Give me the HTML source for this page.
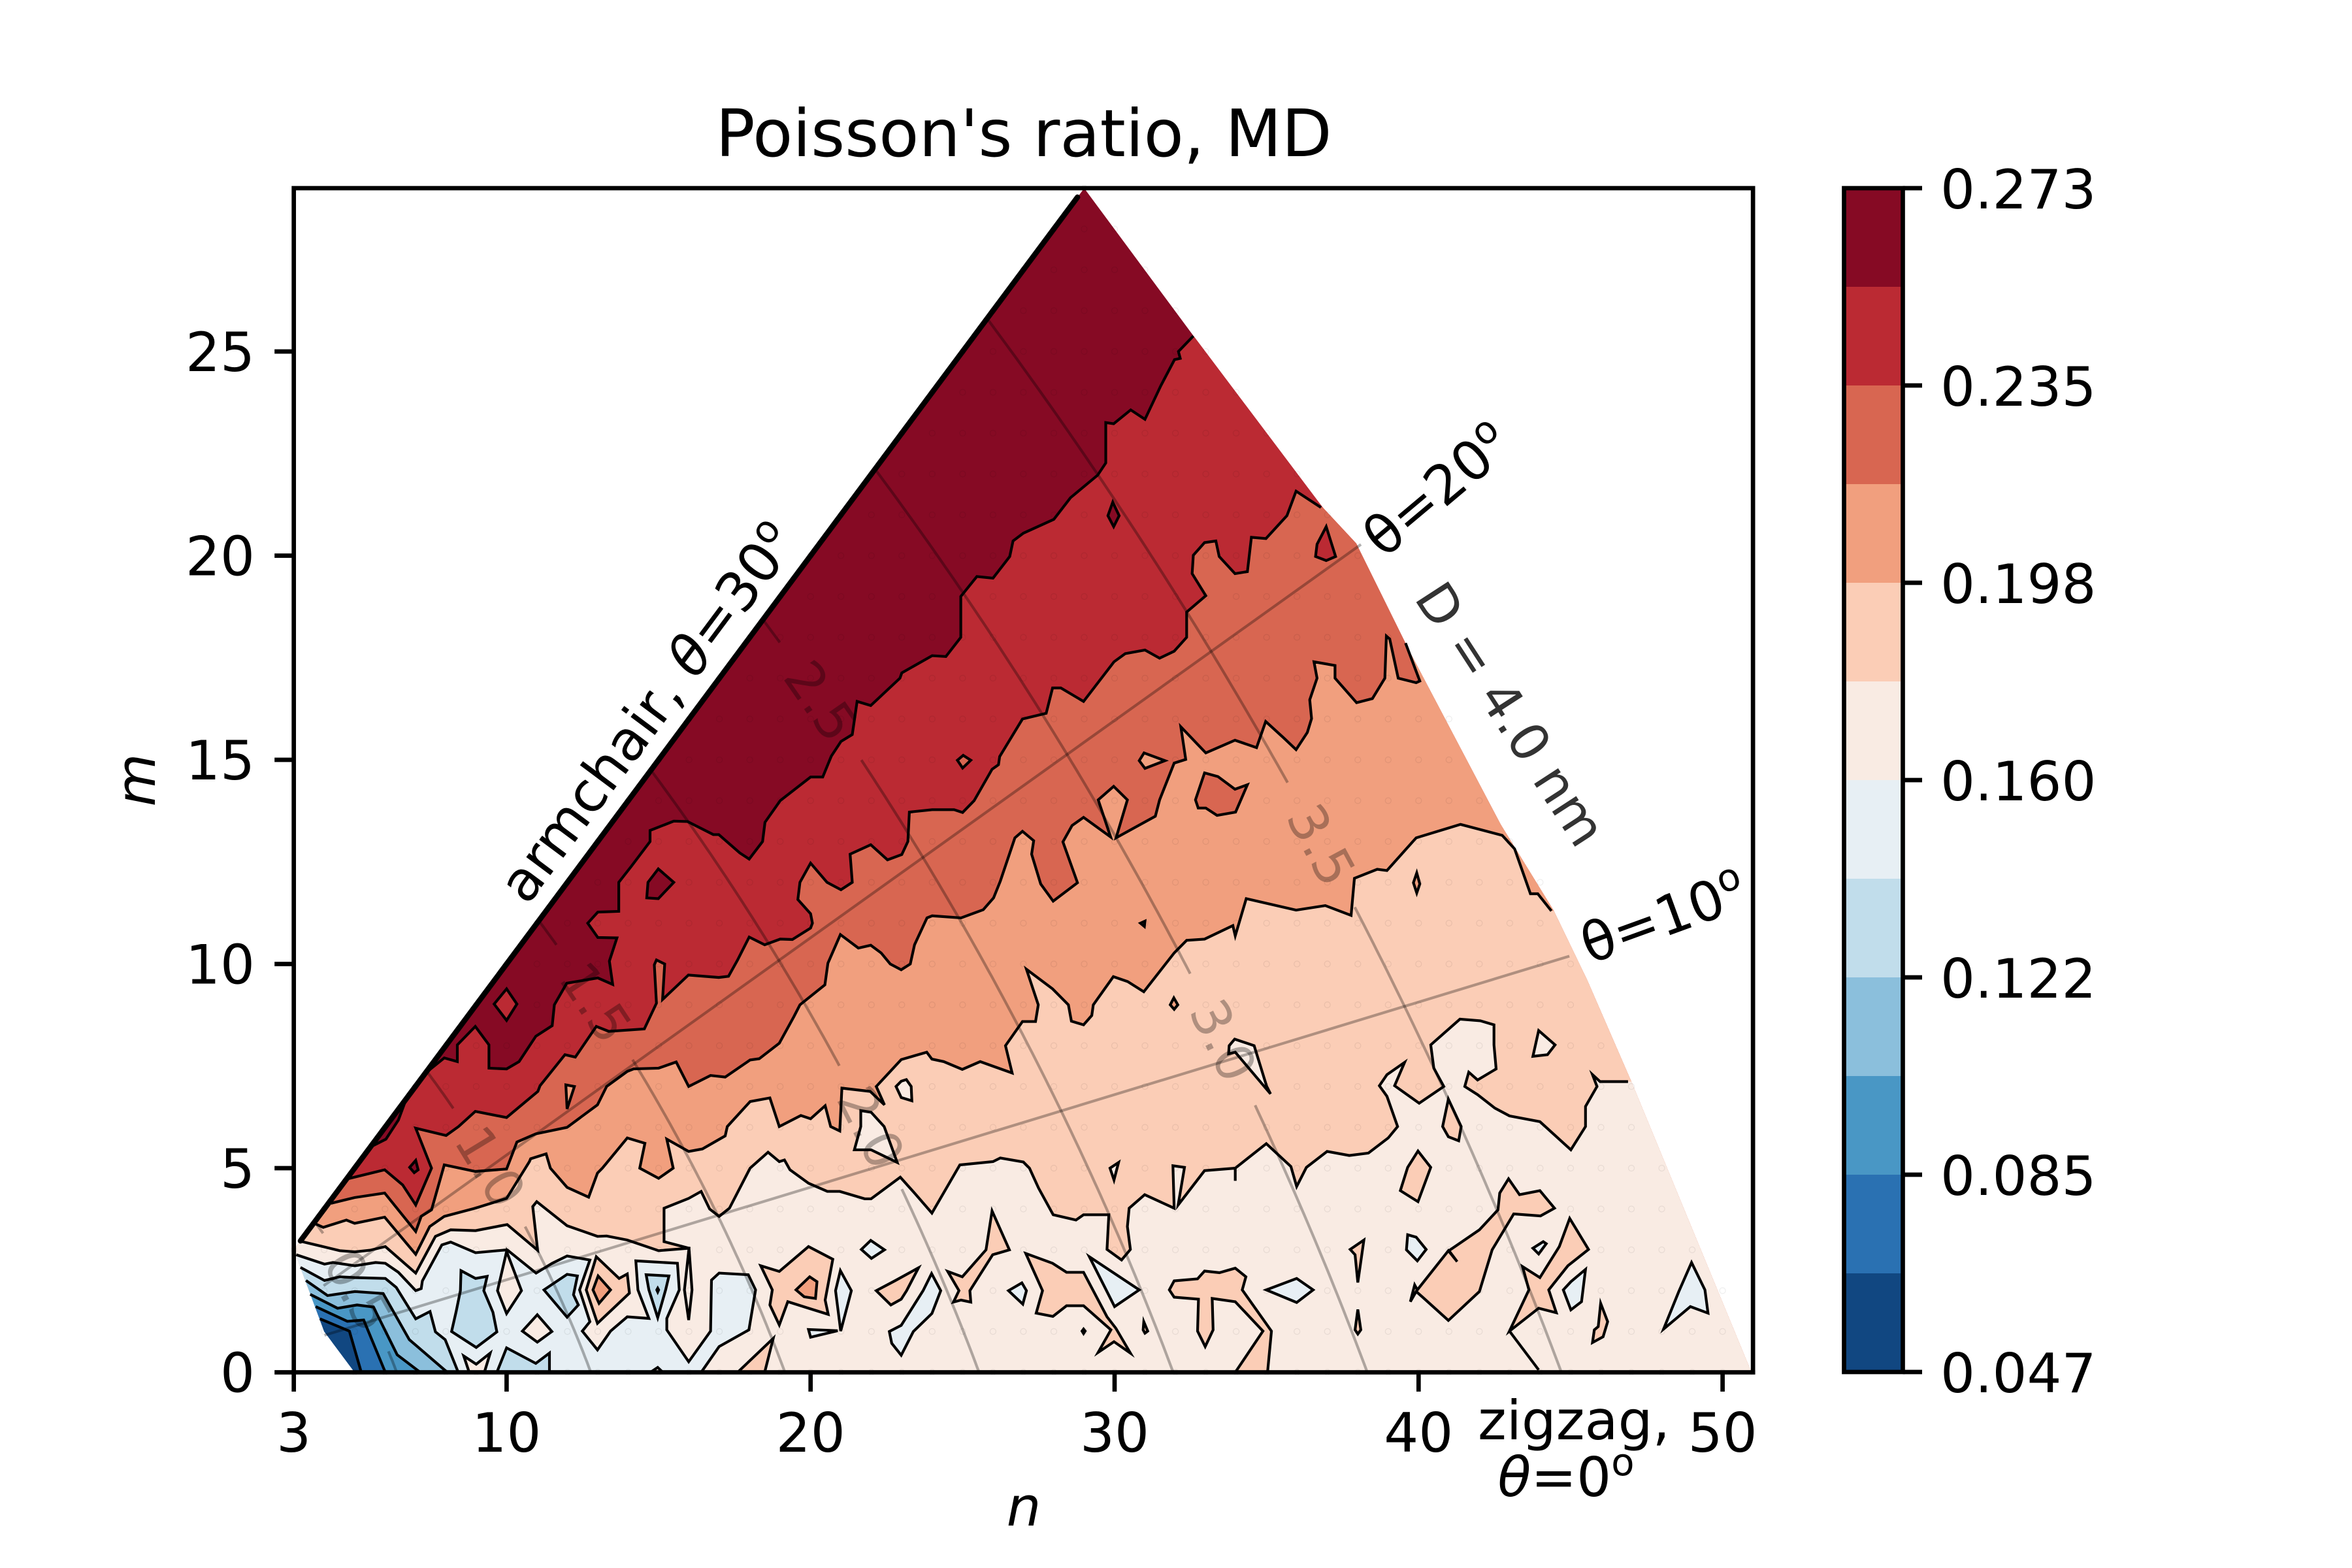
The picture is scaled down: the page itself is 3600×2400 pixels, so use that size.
<!DOCTYPE html>
<html lang="en">
<head>
<meta charset="utf-8">
<title>Poisson's ratio, MD</title>
<style>
html,body{margin:0;padding:0;background:#fff}
svg{display:block}
text{font-family:"DejaVu Sans","Liberation Sans",sans-serif;fill:#000}
</style>
</head>
<body>
<svg id="chart" xmlns="http://www.w3.org/2000/svg" width="3600" height="2400" viewBox="0 0 3600 2400">
  <rect x="0" y="0" width="3600" height="2400" fill="#fff"/>
  <g id="plot"></g>
  <g id="guides"></g>
  <g id="axes"></g>
  <g id="colorbar"></g>
  <text x="1567" y="239" font-size="100" text-anchor="middle">Poisson's ratio, MD</text>
  <text x="1567" y="2335" font-size="83.33" font-style="italic" text-anchor="middle">n</text>
  <text transform="translate(237,1194) rotate(-90)" font-size="83.33" font-style="italic" text-anchor="middle">m</text>
  <text transform="translate(991,1090) rotate(-53.3)" dy="30" font-size="84.5" text-anchor="middle">armchair, <tspan font-style="italic">θ</tspan>=30<tspan font-size="58" dy="-32">o</tspan></text>
  <text transform="translate(2199,749) rotate(-40)" dy="30" font-size="83.33" text-anchor="middle">θ=20<tspan font-size="58" dy="-32">o</tspan></text>
  <text transform="translate(2546,1403) rotate(-20)" dy="30" font-size="83.33" text-anchor="middle">θ=10<tspan font-size="58" dy="-32">o</tspan></text>
  <text transform="translate(2314,1092) rotate(57)" dy="30" font-size="80" text-anchor="middle" style="fill:#333">D = 4.0 nm</text>
  <text x="2409" y="2203" font-size="83.33" text-anchor="middle">zigzag,</text>
  <text x="2397" y="2290" font-size="83.33" text-anchor="middle"><tspan font-style="italic">θ</tspan>=0<tspan font-size="58" dy="-32">o</tspan></text>
</svg>
<script>
// Axis ticks
const xTicks = [3, 10, 20, 30, 40, 50];
const yTicks = [0, 5, 10, 15, 20, 25];
const colorbarLabels = ['0.273', '0.235', '0.198', '0.160', '0.122', '0.085', '0.047'];
// Contour band colours, highest band first
const bandColors = ['#860a24', '#bb2a33', '#d86651', '#f19f7e', '#fbcdb6', '#f9ebe3', '#e7eff4', '#c1ddeb', '#8bbfdc', '#4997c5', '#2a71b2', '#114781'];
// Sampled domain outline, in (n, m)
const domainVertices = [[3,3],[29,29],[32.6,25.38],[36.85,21.18],[37.95,20.3],[39.7,17.66],[42.7,13.42],[44.45,11.3],[45.55,9.6],[47,7.12],[50.95,0],[5,0],[4,1]];
// Main contour lines in (n, m), read left to right; each separates band i from band i+1
const contour0 = [[7.4,7.37],[7.95,7.7],[8.38,7.61],[8.38,8.02],[8.97,8.47],[9.42,8.02],[9.42,7.45],[10,7.43],[10.41,7.61],[10.96,8.23],[11.5,8.49],[11.57,9],[11.98,9.53],[13,9.66],[13.49,9.5],[13.38,10.07],[13.63,10.64],[13,10.65],[12.67,11],[13,11.27],[13.69,11.29],[13.69,12],[14.1,12.39],[14.72,13],[14.72,13.27],[15.5,13.5],[15.95,13.49],[16.8,13.17],[16.98,13.17],[17.67,12.72],[17.98,12.57],[18.42,13],[18.5,13.47],[19,14],[20,14.58],[20.4,14.58],[20.68,15.09],[21,15.45],[21.37,15.62],[21.53,16.43],[21.98,16.33],[22.94,17],[23,17.13],[24,17.55],[24.45,17.53],[24.94,18],[24.94,19],[25.47,19.49],[26,19.45],[26.55,19.98],[26.66,20.36],[27,20.55],[28,20.89],[28.55,21.42],[29.44,21.97],[29.71,22.27],[29.71,23.26],[29.97,23.23],[30.53,23.57],[31,23.34],[31.52,24.16],[31.97,24.8],[32.16,24.83],[32.1,25],[32.59,25.38]];
const contour1 = [[4.77,4.74],[5.99,4.96],[6.58,4.59],[7.01,4.1],[7.53,5],[7.01,5.98],[8.01,5.8],[8.42,6.02],[8.97,6.39],[10,6.24],[11.03,6.88],[11.1,7.02],[11.92,7.78],[12.26,7.72],[12.95,8.47],[13.36,8.35],[14.53,8.41],[14.93,9.04],[14.86,9.98],[14.93,10.1],[15.2,10],[15.13,9.13],[15.98,9.73],[16.98,9.67],[17.3,9.7],[17.6,10.1],[17.98,10.66],[18.49,10.47],[19,10.61],[19.4,10.6],[20,10.88],[20.06,11],[20,11.23],[19.58,11.58],[19.65,12],[20,12.47],[20.54,12],[21,11.82],[21.37,12],[21.3,12.69],[21.98,12.92],[22.53,12.55],[23,12.68],[23.2,13],[23.25,13.72],[24,13.78],[24.72,13.78],[25,13.71],[25.38,14],[25.97,14.77],[26.18,14.88],[26.22,15.08],[26.97,16],[27.75,16.14],[27.96,16.76],[28.23,16.76],[28.98,16.43],[29.98,17.4],[30.35,17.6],[31,17.69],[31.48,17.49],[31.96,17.66],[32.37,18],[32.37,18.62],[33,19.02],[32.55,19.56],[32.59,20.01],[32.96,20.32],[33.33,20.36],[33.44,19.98],[33.96,19.56],[34.37,19.61],[34.5,20.45],[34.98,20.42],[35.67,20.98],[35.97,21.58],[36.79,21.18]];
const contour2 = [[4.22,4.14],[5,4.28],[5.99,4.39],[7.01,3.45],[7.19,3.82],[7.53,3.98],[7.95,5.08],[8.97,4.92],[10,4.98],[10.34,5.64],[10.96,5.84],[11.99,6],[12.99,6.55],[13.29,7],[13.97,7.37],[14.18,7.43],[15,7.45],[15.58,7.6],[15.99,7],[16.71,7.27],[17.19,7.23],[18.01,7.65],[18.31,7.68],[18.97,8.06],[19.45,8.71],[19.65,9],[20.47,9.49],[20.57,10.02],[20.98,10.72],[21.57,10.39],[21.98,10.46],[22.32,10.27],[22.62,10],[22.98,9.86],[23.28,10],[23.42,10.47],[23.83,11.13],[24,11.18],[24.95,11.13],[25.68,11.33],[26.02,11.62],[26.24,12.03],[26.72,13.09],[26.97,13.25],[27.34,13.02],[27.27,12.69],[27.57,11.96],[27.98,11.54],[28.78,11.99],[28.3,12.99],[28.6,13.39],[28.98,13.59],[29.87,13.11],[29.46,14.02],[29.97,14.35],[30.42,14.02],[30.05,13.09],[31.34,13.62],[31.48,14.02],[31.96,14.92],[32.34,15.01],[32.18,15.81],[33,15.17],[33.96,15.48],[34.67,15.3],[34.97,15.94],[35.56,15.54],[35.97,15.25],[36.34,15.67],[36.48,16.01],[36.42,16.47],[36.66,17],[36.56,17.4],[37.25,17.31],[37.25,17],[37.96,16.4],[38.48,16.5],[38.89,17],[38.94,18.03],[39.05,17.96],[39.33,17],[39.92,16.89],[40.04,16.93],[39.57,17.86]];
const contour3 = [[3.73,3.63],[3.97,3.55],[4.73,3.73],[5,3.65],[5.99,3.8],[7.01,2.89],[7.47,3.57],[7.95,3.82],[8.97,4.02],[10,4.26],[10.75,5.16],[10.79,5.23],[11.3,5.35],[11.44,5],[11.99,4.53],[12.7,4.29],[12.99,4.88],[13.15,5],[13.97,5.74],[14.55,5.61],[14.38,5],[15,4.75],[15.48,5],[15.27,5.71],[15.99,5.41],[16.44,5.47],[17.19,5.79],[17.26,6.02],[18.01,6.63],[18.66,6.72],[18.97,6.02],[19.68,6.29],[20,6.21],[20.48,6.53],[20.66,6.02],[20.96,5.91],[21.03,6.96],[21.96,6.88],[22.43,6.55],[22.16,7],[22.98,7.66],[23.82,7.84],[23.99,7.67],[24.38,7.61],[24.99,7.42],[25.58,7.61],[26.63,7.33],[26.41,8],[26.97,8.59],[27.4,8.59],[27.49,9],[27.1,9.87],[27.96,9.39],[28.48,9],[28.58,8.6],[28.98,8.51],[29.25,8.74],[29.3,9],[29.96,9.69],[30.43,9.57],[30.96,9.32],[31.96,10.27],[32.37,10.58],[32.96,10.61],[33.89,10.94],[33.97,10.69],[34.33,11.6],[35.97,11.32],[36.93,11.43],[37.78,11.19],[37.89,12.1],[38.64,12.32],[38.96,12.29],[39.92,13.09],[41.38,13.42],[42.75,13.15],[43.16,12.82],[43.68,11.72],[43.92,11.72],[44.37,11.3]];
const contour4 = [[3.22,3.21],[4.01,3.07],[4.51,2.98],[5.01,2.95],[5.51,2.99],[6.01,3.08],[7.01,2.43],[7.66,3.33],[8.16,3.49],[8.98,3.47],[10.02,3.62],[11.02,2.99],[10.86,4.06],[10.99,4.18],[11.99,3.59],[12.99,3.33],[13.29,3.34],[13.97,3.24],[15,2.98],[16,3.04],[16.1,2.02],[15.99,1.28],[15.85,2.02],[16,3.04],[15.18,3.2],[15.18,4.02],[15.99,4.26],[16.4,4.43],[16.68,4],[16.99,3.82],[17.33,4.02],[18.01,5],[18.6,5.39],[18.97,5.16],[19.14,5.2],[19.32,4.96],[19.93,4.63],[20.55,4.43],[20.96,4.43],[21.78,4.25],[21.99,4.25],[22.95,4.78],[23.42,4.39],[23.99,3.9],[24.91,5.08],[26,5.16],[26.24,5.25],[27,5.15],[27.2,5],[27.5,4.51],[27.98,3.86],[28.73,3.73],[28.98,3.86],[29.81,3.86],[29.75,3.01],[30.23,2.75],[30.52,3.01],[30.42,3.57],[30.48,4.02],[30.99,4.35],[31.96,4.02],[31.92,5.06],[32.3,5.02],[32.09,4.1],[32.96,4.94],[33.97,5],[33.97,4.69],[33.97,5],[34.99,5.6],[35.8,5.04],[35.99,4.55],[36.31,5.02],[36.99,5.41],[37.72,5.31],[38.35,5.37],[39,5.74],[39.31,6.02],[38.96,6.76],[38.71,7.02],[38.96,7.29],[39.54,7.59],[39.21,7.02],[40.02,6.59],[40.83,7],[40.5,7.45],[40.4,8.02],[41.36,8.65],[42.03,8.61],[42.48,8.51],[42.48,8.02],[42.55,7.43],[41.94,7.16],[41.65,7.35],[41.52,7],[41.94,6.8],[42.51,6.47],[42.99,6.28],[43.99,6.14],[45.01,5.45],[45.49,6.02],[45.49,6.51],[45.87,7],[45.72,7.29],[45.97,7.12],[46.89,7.12]];
const contour5 = [[3.08,2.88],[4.01,2.65],[4.29,2.69],[5.01,2.61],[5.69,2.69],[6.01,2.67],[6.44,2.45],[7.01,2],[7.19,2.05],[7.23,2.24],[7.87,3.12],[8.16,3.19],[8.98,2.93],[10.02,3],[10.97,2.43],[11.5,2.67],[11.99,2.85],[12.74,2.75],[12.4,2.02],[12.74,1.24],[12.49,1.01],[12.99,0.55],[13.42,1.01],[13.97,1.36],[14.68,1.32],[14.32,2.02],[14.25,2.73],[15.62,2.67],[15.68,2.02],[15.27,1.32],[15.27,1.04],[15.99,0.26],[16.71,1.01],[16.74,2.26],[16.99,2.43],[17.95,2.39],[18.19,2.02],[17.97,1.04],[16.99,0.63],[16.4,0]];
const contour6 = [[3.22,2.57],[4.01,2.25],[4.51,2.34],[5.01,2.32],[6.01,2.3],[6.37,2.08],[7.01,1.31],[7.48,1.49],[7.66,0.99],[7.98,0.8],[8.41,0]];
const contour7 = [[3.4,2.25],[4.11,1.88],[5.01,1.98],[5.94,1.93],[6.8,0.8],[8.05,0]];
const contour8 = [[3.54,1.91],[4.44,1.57],[5.08,1.65],[5.62,1.6],[6.4,0.43],[7.16,0]];
const contour9 = [[3.72,1.61],[4.76,1.25],[5.3,1.28],[6.01,0]];
const contour10 = [[3.86,1.31],[4.83,1.01],[5.22,0]];
const mainContours = [contour0, contour1, contour2, contour3, contour4, contour5, contour6, contour7, contour8, contour9, contour10];
// Closed pockets: band index and outline in (n, m)
const pocketBands = [1,0,0,2,0,1,3,2,3,3,3,4,5,5,5,5,4,3,6,5,5,5,7,7,7,4,3,7,9,5,4,6,6,6,4,6,4,4,6,6,4,6,4,4,6,4,4,4,6,6,5,4,4,4,4];
const pocketOutlines = [
[[10,9.39],[10.34,9.02],[10,8.62],[9.59,9.02]],
[[7.01,5.19],[7.09,4.96],[6.96,4.89],[6.81,5.02]],
[[14.99,12.33],[15.5,12],[14.99,11.6],[14.61,11.62],[14.65,12]],
[[25.02,15.11],[25.27,14.99],[25,14.8],[24.83,14.99]],
[[29.94,21.31],[30.15,20.98],[29.97,20.71],[29.78,20.98]],
[[36.96,20.71],[37.27,19.98],[36.96,19.88],[36.61,19.98],[36.66,20.28]],
[[30.97,15.17],[31.66,14.98],[31,14.79],[30.81,14.98]],
[[32.96,14.68],[33.4,14.59],[33.96,14.28],[34.37,14.39],[33.98,13.72],[33.37,13.64],[33,13.82],[32.75,13.82],[32.66,14.02]],
[[11.95,7.04],[12.23,7],[11.99,6.45]],
[[39.94,12.23],[40.04,11.96],[39.94,11.74],[39.83,11.99]],
[[31.95,9.17],[32.08,9],[31.96,8.89],[31.83,9]],
[[30.85,11],[31,11.05],[30.98,10.92]],
[[22.81,7],[22.98,7.13],[23.15,7.17],[23.31,7],[23.33,6.65],[22.98,6.73]],
[[21.65,6.41],[21.99,6.37],[22.42,6.02],[22.85,5.14],[21.99,5.45],[21.44,5.45],[21.65,6.02]],
[[33.95,8.16],[34.59,8],[35,7.01],[35.13,6.82],[33.97,7.84],[33.75,7.8],[33.77,8]],
[[43.76,7.74],[43.95,8.37],[44.49,8.02],[44.24,7.78]],
[[18.36,2.61],[18.97,2.47],[19.93,3.08],[20.73,2.77],[20.48,1.77],[20.58,1.42],[19.93,1.57],[19.25,1.73],[18.97,1.16],[18.66,1.65],[18.74,2.02]],
[[19.52,2.02],[19.97,2.34],[20.21,2.22],[20.16,1.81],[19.79,1.85]],
[[20.98,2.49],[21.34,2],[20.99,1.01],[20.82,2]],
[[10,2.96],[10.49,2],[10,1.44],[9.7,2]],
[[11.01,1.41],[11.49,1],[11.01,0.74],[10.52,1.01]],
[[8.59,0.4],[9,0.2],[9.46,0.47],[9.27,0],[8.77,0]],
[[8.5,2.49],[8.98,2.3],[9.36,2.35],[9.25,2],[9.55,1.47],[9.68,0.99],[9,0.61],[8.19,1],[8.34,1.49],[8.48,2]],
[[9.68,0],[10,0.6],[10.96,0.22],[11.41,0.47],[11.41,0]],
[[11.23,2.02],[11.99,2.4],[12.33,2.36],[12.2,1.9],[12.36,1.65],[11.99,1.35]],
[[12.95,2.83],[13.7,2.3],[13.97,2.41],[14.04,1.94],[12.99,1.2],[12.62,2.02]],
[[13.01,2.36],[13.42,2.02],[13.04,1.69],[12.84,2.02]],
[[14.59,2.39],[15.34,2.36],[15.23,2.02],[14.97,1.34],[14.68,2.02]],
[[14.97,2.06],[15,2.02],[14.97,1.97],[14.94,2.02]],
[[14.73,0],[14.97,0.12],[15.14,0]],
[[18.77,0.83],[18.49,0],[17.6,0]],
[[21.98,3.23],[22.43,3],[22,2.79],[21.67,3.01]],
[[19.93,1.05],[20.89,1.02],[20,0.86]],
[[23.98,2.42],[24.28,2],[23.99,1.44],[23.38,1],[22.98,0.42],[22.67,0.71],[22.59,1],[22.98,1.15],[23.7,2]],
[[23.55,2.56],[22.77,2.24],[22.16,2],[22.64,1.65],[22.98,1.79],[23.16,2]],
[[26.95,2.19],[27.1,2],[26.98,1.67],[26.51,2]],
[[25.97,3.95],[26.54,3],[25.99,2.88],[25.24,2],[25.27,1.72],[24.95,1.77],[24.7,1.72],[24.88,2],[24.51,2.47],[24.99,2.34],[25.77,3]],
[[27.08,2.91],[27.96,2.67],[28.42,2.45],[28.98,2.45],[29.75,1.36],[30.04,1.08],[30.52,0.47],[29.98,0.75],[29.46,0.49],[29.88,1.04],[28.98,1.63],[28.42,1.63],[27.97,1.37],[27.42,1.45],[27.63,2]],
[[29.17,2.83],[30.81,2.02],[30,1.61]],
[[39.64,3.37],[39.92,3.31],[40.25,3.01],[39.96,2.73],[39.6,3]],
[[33.97,0],[34.88,1.01],[33.97,1.73],[33.21,1.81],[33.24,1.04],[32.98,0.63],[32.73,1.01],[32.76,1.79],[31.96,1.84],[31.8,2.02],[31.96,2.24],[32.73,2.29],[32.96,2.48],[33.45,2.44],[33.97,2.55],[34.32,2.34],[34.2,2.02],[35.16,1.01],[35.03,0]],
[[35.99,2.3],[36.53,2.02],[35.99,1.71],[34.99,2.02]],
[[38.2,3.24],[38,2.2],[37.91,2.88],[37.75,3.01]],
[[38,1.54],[38.1,1.04],[38,0.94],[37.91,1.04]],
[[44.1,3.2],[44.2,3.15],[43.95,2.9],[43.76,3.04]],
[[42.96,4.74],[43.32,4.35],[43.99,4.45],[44.47,4.02],[44.01,3.83],[43.13,3.88],[42.42,3],[42,1.98],[40.98,1.27],[40.12,1.85],[39.92,1.98],[39.73,1.73],[39.87,2.14],[39.96,2.02],[40.98,2.98],[41.27,2.71],[41,2.98],[42,3.49],[42.61,3.98],[42.67,4.39]],
[[44.97,3.77],[45.59,3.01],[44.91,2.61],[44.28,2.02],[44.53,1.46],[43.95,1.57],[42.99,1.01],[43.63,2.02],[43.42,2.59],[43.99,2.32],[44.63,3.08]],
[[45.99,1.69],[46.22,1.24],[46.07,0.87],[45.72,0.73],[45.78,1.04],[45.91,1.12]],
[[45.49,2.52],[45.36,1.73],[45.01,1.53],[44.76,2.02],[45.01,2.22]],
[[48.98,2.69],[49.42,2.02],[49.52,1.45],[48.94,1.61],[48.06,1.06],[48.56,1.98]],
[[30.13,5.14],[29.98,4.71],[29.85,5]],
[[40.98,6.69],[41.4,6.02],[41.32,5.67],[40.98,5.77],[40.79,6.02]],
[[39.98,5.42],[40.4,5.02],[39.98,4.18],[39.4,4.45],[39.64,5.02]],
[[30.96,1.24],[31.09,1.01],[31,0.96],[30.94,1.04]],
[[28.98,1.06],[29.03,1.01],[28.98,0.95],[28.93,1.01]]
];
// Open pieces: a dark sliver along the armchair edge, and a stray contour segment
const armchairSliver = [[5.55,5.53],[6.03,5.71],[6.44,6.18],[6.71,6.72]];
const strayContour = [[42.99,1.01],[43.95,0.06]];
const armchairLine = [[3.22,3.22],[28.78,28.78]];
// Guide curves
const diameterLevels = [0.5, 1.0, 1.5, 2.0, 2.5, 3.0, 3.5];
const diameterLabelTheta = [15.8, 20, 24.2, 11.75, 26.5, 10.6, 14.5];
const thetaLevels = [10, 20];
const thetaStartD = [0.355, 0.42];
const thetaEndD = [3.98, 4.02];

const NS = 'http://www.w3.org/2000/svg';
const x = n => 449.7 + (n - 3) * 46.53;
const y = m => 2100.5 - m * 62.5;
const cbY = i => 288 + i * 151;
const lattice = 0.246;
const toChiral = (D, thetaDeg) => {
  const R = D * Math.PI / lattice, t = thetaDeg * Math.PI / 180;
  return [R * (Math.cos(t) - Math.sin(t) / Math.sqrt(3)), 2 * R * Math.sin(t) / Math.sqrt(3)];
};
const pts = list => list.map(p => x(p[0]).toFixed(1) + ' ' + y(p[1]).toFixed(1)).join(' L');
const mk = (parent, tag) => { const el = document.createElementNS(NS, tag); parent.appendChild(el); return el; };

const plot = document.getElementById('plot');
const guides = document.getElementById('guides');
const axes = document.getElementById('axes');
const cbar = document.getElementById('colorbar');

const defs = mk(plot, 'defs');
const clip = mk(defs, 'clipPath');
clip.setAttribute('id', 'domain-clip');
const clipShape = mk(clip, 'path');
clipShape.setAttribute('d', 'M' + pts(domainVertices) + 'Z');

const fills = mk(plot, 'g');


fills.setAttribute('clip-path', 'url(#domain-clip)');

const base = mk(fills, 'path');


base.setAttribute('d', 'M' + pts(domainVertices) + 'Z');
base.setAttribute('fill', bandColors[0]);

mainContours.forEach((line, i) => {
  const first = line[0], last = line[line.length - 1];
  const closure = [[70, last[1]], [70, -5], [-5, -5], [-5, first[1]]];
  const band = mk(fills, 'path');
  
  
  band.setAttribute('d', 'M' + pts(line.concat(closure)) + 'Z');
  band.setAttribute('fill', bandColors[i + 1]);
});

const markers = mk(plot, 'g');


markers.setAttribute('fill', 'none');
markers.setAttribute('stroke', '#000');
markers.setAttribute('stroke-opacity', '0.07');
markers.setAttribute('stroke-width', '1.2');
for (let n = 3; n <= 51; n++) {
  for (let m = 0; m <= Math.min(n, 29); m++) {
    const r2 = n * n + n * m + m * m;
    if (r2 < 21 || r2 > 2610) continue;
    const dot = mk(markers, 'circle');
    
    
    dot.setAttribute('cx', x(n).toFixed(1));
    dot.setAttribute('cy', y(m).toFixed(1));
    dot.setAttribute('r', '4.5');
  }
}

const lines = mk(plot, 'g');


lines.setAttribute('fill', 'none');
lines.setAttribute('stroke', '#000');
lines.setAttribute('stroke-width', '4.17');
lines.setAttribute('stroke-linejoin', 'miter');
lines.setAttribute('stroke-miterlimit', '5');

pocketOutlines.forEach((outline, i) => {
  const pocket = mk(lines, 'path');
  
  
  pocket.setAttribute('d', 'M' + pts(outline) + 'Z');
  pocket.setAttribute('fill', bandColors[pocketBands[i]]);
});
const sliver = mk(lines, 'path');


sliver.setAttribute('d', 'M' + pts(armchairSliver));
sliver.setAttribute('fill', bandColors[0]);
const stray = mk(lines, 'path');


stray.setAttribute('d', 'M' + pts(strayContour));
mainContours.forEach((line, i) => {
  const stroke = mk(lines, 'path');
  
  
  stroke.setAttribute('d', 'M' + pts(line));
});
const arm = mk(plot, 'path');


arm.setAttribute('d', 'M' + pts(armchairLine));
arm.setAttribute('stroke', '#000');
arm.setAttribute('stroke-width', '8.33');
arm.setAttribute('stroke-linecap', 'round');
arm.setAttribute('fill', 'none');

// Constant-diameter guides with inline labels
const gapRadius = 103;
diameterLevels.forEach((D, i) => {
  const lp = toChiral(D, diameterLabelTheta[i]);
  const lx = x(lp[0]), ly = y(lp[1]);
  let d = '', pen = false;
  for (let t = 0; t <= 30.001; t += 0.25) {
    const p = toChiral(D, t), px = x(p[0]), py = y(p[1]);
    if (Math.hypot(px - lx, py - ly) < gapRadius) { pen = false; continue; }
    d += (pen ? 'L' : 'M') + px.toFixed(1) + ' ' + py.toFixed(1);
    pen = true;
  }
  const curve = mk(guides, 'path');
  
  
  curve.setAttribute('d', d);
  curve.setAttribute('fill', 'none');
  curve.setAttribute('stroke', '#000');
  curve.setAttribute('stroke-opacity', '0.3');
  curve.setAttribute('stroke-width', '4.17');
  const a = toChiral(D, diameterLabelTheta[i] - 1), b = toChiral(D, diameterLabelTheta[i] + 1);
  let ang = Math.atan2(y(b[1]) - y(a[1]), x(b[0]) - x(a[0])) * 180 / Math.PI;
  if (ang > 90) ang -= 180;
  if (ang < -90) ang += 180;
  const label = mk(guides, 'text');
  
  
  label.setAttribute('transform', 'translate(' + lx.toFixed(1) + ',' + ly.toFixed(1) + ') rotate(' + ang.toFixed(1) + ')');
  label.setAttribute('text-anchor', 'middle');
  label.setAttribute('dy', '29');
  label.setAttribute('font-size', '80');
  label.setAttribute('style', 'fill:#000;fill-opacity:0.3');
  label.textContent = D.toFixed(1);
});
thetaLevels.forEach((theta, i) => {
  const a = toChiral(thetaStartD[i], theta), b = toChiral(thetaEndD[i], theta);
  const ray = mk(guides, 'path');
  
  
  ray.setAttribute('d', 'M' + pts([a, b]));
  ray.setAttribute('stroke', '#000');
  ray.setAttribute('stroke-opacity', '0.3');
  ray.setAttribute('stroke-width', '4.17');
});

// Axes frame, ticks, tick labels
const frame = mk(axes, 'rect');


frame.setAttribute('x', x(3));
frame.setAttribute('y', y(29));
frame.setAttribute('width', x(51) - x(3));
frame.setAttribute('height', y(0) - y(29));
frame.setAttribute('fill', 'none');
frame.setAttribute('stroke', '#000');
frame.setAttribute('stroke-width', '6.67');

xTicks.forEach(v => {
  const tick = mk(axes, 'line');
  
  
  tick.setAttribute('x1', x(v));
  tick.setAttribute('x2', x(v));
  tick.setAttribute('y1', y(0));
  tick.setAttribute('y2', y(0) + 29.5);
  tick.setAttribute('stroke', '#000');
  tick.setAttribute('stroke-width', '6.67');
  const t = mk(axes, 'text');
  
  
  t.setAttribute('x', x(v));
  t.setAttribute('y', 2222);
  t.setAttribute('font-size', '83.33');
  t.setAttribute('text-anchor', 'middle');
  t.textContent = v;
});
yTicks.forEach(v => {
  const tick = mk(axes, 'line');
  
  
  tick.setAttribute('x1', x(3));
  tick.setAttribute('x2', x(3) - 29.5);
  tick.setAttribute('y1', y(v));
  tick.setAttribute('y2', y(v));
  tick.setAttribute('stroke', '#000');
  tick.setAttribute('stroke-width', '6.67');
  const t = mk(axes, 'text');
  
  
  t.setAttribute('x', 390);
  t.setAttribute('y', y(v) + 30);
  t.setAttribute('font-size', '83.33');
  t.setAttribute('text-anchor', 'end');
  t.textContent = v;
});

// Colorbar
bandColors.forEach((c, i) => {
  const seg = mk(cbar, 'rect');
  
  
  seg.setAttribute('x', 2822.5);
  seg.setAttribute('y', cbY(i));
  seg.setAttribute('width', 90);
  seg.setAttribute('height', 151.5);
  seg.setAttribute('fill', c);
});
const cbFrame = mk(cbar, 'rect');


cbFrame.setAttribute('x', 2822.5);
cbFrame.setAttribute('y', cbY(0));
cbFrame.setAttribute('width', 90);
cbFrame.setAttribute('height', cbY(12) - cbY(0));
cbFrame.setAttribute('fill', 'none');
cbFrame.setAttribute('stroke', '#000');
cbFrame.setAttribute('stroke-width', '6.67');
colorbarLabels.forEach((s, i) => {
  const ty = cbY(i * 2);
  const tick = mk(cbar, 'line');
  
  
  tick.setAttribute('x1', 2912.5);
  tick.setAttribute('x2', 2942);
  tick.setAttribute('y1', ty);
  tick.setAttribute('y2', ty);
  tick.setAttribute('stroke', '#000');
  tick.setAttribute('stroke-width', '6.67');
  const t = mk(cbar, 'text');
  
  
  t.setAttribute('x', 2970);
  t.setAttribute('y', ty + 31);
  t.setAttribute('font-size', '83.33');
  t.textContent = s;
});
</script>
</body>
</html>
